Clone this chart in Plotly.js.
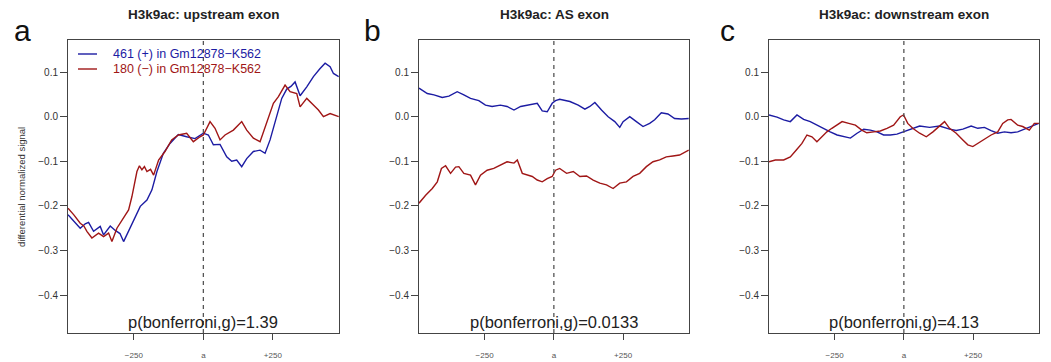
<!DOCTYPE html>
<html>
<head>
<meta charset="utf-8">
<script src="https://cdn.plot.ly/plotly-3.0.1.min.js"></script>
<style>html,body{margin:0;padding:0;background:#fff;}#chart{width:1051px;height:362px;}</style>
</head>
<body>
<div id="chart"></div>
<script>
// ---------- data ----------
const panelTitles = ['H3k9ac: upstream exon', 'H3k9ac: AS exon', 'H3k9ac: downstream exon'];
const panelLetters = ['a', 'b', 'c'];
const pValues = ['p(bonferroni,g)=1.39', 'p(bonferroni,g)=0.0133', 'p(bonferroni,g)=4.13'];
const seriesNames = ['461 (+) in Gm12878\u2212K562', '180 (\u2212) in Gm12878\u2212K562'];
const xTickVals = [-250, 0, 250];
const xTickText = ['\u2212250', 'a', '+250'];
const yTickVals = [-0.4, -0.3, -0.2, -0.1, 0.0, 0.1];
const yTitle = 'differential normalized signal';

// panel a: upstream exon
const aBlueX = [-487,-466,-443,-425,-413,-395,-371,-359,-335,-317,-300,-287,-269,-251,-227,-203,-185,-167,-144,-120,-90,-60,-30,0,18,36,60,84,102,120,138,156,180,204,222,240,264,282,300,315,330,348,372,396,420,438,456,468,487];
const aBlueY = [-0.220,-0.235,-0.250,-0.240,-0.237,-0.257,-0.246,-0.265,-0.245,-0.255,-0.262,-0.280,-0.257,-0.231,-0.201,-0.187,-0.164,-0.123,-0.082,-0.060,-0.040,-0.045,-0.049,-0.037,-0.041,-0.063,-0.062,-0.090,-0.100,-0.097,-0.112,-0.094,-0.078,-0.075,-0.082,-0.052,0.000,0.041,0.062,0.068,0.078,0.047,0.067,0.090,0.108,0.120,0.112,0.097,0.090];
const aRedX = [-487,-466,-443,-430,-419,-401,-377,-359,-341,-329,-311,-287,-269,-257,-239,-230,-221,-212,-203,-190,-179,-161,-138,-114,-90,-60,-36,-12,0,24,42,60,78,108,138,156,180,204,228,252,270,294,312,336,348,372,396,414,432,456,487];
const aRedY = [-0.205,-0.220,-0.239,-0.245,-0.257,-0.272,-0.261,-0.269,-0.261,-0.280,-0.250,-0.228,-0.209,-0.179,-0.123,-0.110,-0.119,-0.112,-0.123,-0.118,-0.131,-0.097,-0.078,-0.052,-0.041,-0.037,-0.056,-0.045,-0.041,-0.011,-0.026,-0.052,-0.041,-0.030,-0.011,-0.030,-0.048,-0.056,-0.011,0.030,0.045,0.071,0.056,0.052,0.022,0.041,0.026,0.015,0.000,0.007,0.000];

// panel b: AS exon
const bBlueX = [-487,-457,-433,-403,-379,-349,-325,-301,-271,-247,-223,-193,-169,-144,-120,-90,-60,-42,-24,-6,6,21,58,88,112,130,148,172,196,220,238,250,274,298,322,346,364,388,412,436,461,487];
const bBlueY = [0.064,0.052,0.049,0.043,0.046,0.056,0.049,0.041,0.036,0.026,0.023,0.026,0.023,0.015,0.023,0.026,0.030,0.013,0.011,0.030,0.036,0.039,0.034,0.026,0.017,0.023,0.032,0.015,0.000,-0.011,-0.024,-0.011,0.000,-0.011,-0.022,-0.015,-0.007,0.009,0.006,-0.004,-0.005,-0.004];
const bRedX = [-487,-463,-439,-421,-406,-391,-373,-355,-343,-325,-301,-283,-265,-241,-217,-193,-169,-144,-132,-114,-96,-78,-60,-42,-24,-6,6,21,46,70,94,118,142,166,190,214,238,262,286,310,334,358,382,406,430,454,487];
const bRedY = [-0.194,-0.176,-0.161,-0.146,-0.116,-0.110,-0.127,-0.113,-0.112,-0.127,-0.131,-0.153,-0.131,-0.120,-0.116,-0.108,-0.101,-0.104,-0.097,-0.127,-0.131,-0.134,-0.142,-0.146,-0.139,-0.134,-0.120,-0.116,-0.127,-0.123,-0.134,-0.133,-0.142,-0.149,-0.153,-0.161,-0.149,-0.146,-0.134,-0.127,-0.112,-0.101,-0.097,-0.090,-0.088,-0.086,-0.075];

// panel c: downstream exon
const cBlueX = [-487,-458,-434,-410,-386,-362,-338,-314,-290,-266,-241,-217,-193,-169,-145,-121,-97,-73,-49,-25,-1,20,57,93,129,165,189,213,243,267,291,315,339,363,387,411,435,459,487];
const cBlueY = [0.004,-0.001,-0.007,-0.011,0.004,-0.006,-0.011,-0.019,-0.026,-0.034,-0.041,-0.045,-0.048,-0.037,-0.028,-0.030,-0.034,-0.041,-0.041,-0.039,-0.034,-0.028,-0.021,-0.024,-0.021,-0.028,-0.031,-0.028,-0.021,-0.026,-0.024,-0.031,-0.037,-0.034,-0.036,-0.034,-0.028,-0.021,-0.015];
const cRedX = [-487,-464,-434,-410,-386,-368,-350,-332,-314,-296,-278,-260,-241,-223,-199,-175,-152,-134,-109,-85,-61,-37,-13,-1,14,32,57,81,105,129,147,165,189,213,231,249,267,291,315,339,357,375,387,411,429,453,471,487];
const cRedY = [-0.101,-0.097,-0.097,-0.090,-0.073,-0.060,-0.041,-0.045,-0.056,-0.045,-0.034,-0.026,-0.019,-0.011,-0.015,-0.019,-0.030,-0.036,-0.034,-0.032,-0.026,-0.019,0.000,0.004,-0.015,-0.026,-0.037,-0.045,-0.034,-0.022,-0.011,-0.026,-0.037,-0.052,-0.063,-0.067,-0.060,-0.052,-0.041,-0.034,-0.015,-0.007,-0.006,-0.019,-0.022,-0.030,-0.015,-0.015];

// ---------- styling ----------
const FONT = 'Liberation Sans, Arial, Helvetica, sans-serif';
const BLUE = '#1c1ca3';
const RED = '#a01616';
const W = 1051, H = 362;
const xDomains = [[68/W, 339/W], [419/W, 689/W], [769/W, 1039/W]];
const yDomain = [1 - 333/H, 1 - 40/H];
const xRange = [-487, 488];
const yRange = [-0.485, 0.172];

const panels = [
  {bx: aBlueX, by: aBlueY, rx: aRedX, ry: aRedY},
  {bx: bBlueX, by: bBlueY, rx: bRedX, ry: bRedY},
  {bx: cBlueX, by: cBlueY, rx: cRedX, ry: cRedY}
];

const traces = [];
const layout = {
  width: W, height: H,
  margin: {l: 0, r: 0, t: 0, b: 0},
  paper_bgcolor: '#fff', plot_bgcolor: '#fff',
  showlegend: false,
  font: {family: FONT, color: '#333'},
  shapes: [], annotations: []
};

panels.forEach((p, i) => {
  const sfx = i === 0 ? '' : String(i + 1);
  const xa = 'x' + sfx, ya = 'y' + sfx;
  traces.push({x: p.bx, y: p.by, xaxis: xa, yaxis: ya, type: 'scatter', mode: 'lines',
    name: seriesNames[0], line: {color: BLUE, width: 1.4}, hoverinfo: 'skip'});
  traces.push({x: p.rx, y: p.ry, xaxis: xa, yaxis: ya, type: 'scatter', mode: 'lines',
    name: seriesNames[1], line: {color: RED, width: 1.4}, hoverinfo: 'skip'});

  layout['xaxis' + sfx] = {
    domain: xDomains[i], anchor: ya, range: xRange, fixedrange: true,
    showgrid: false, zeroline: false,
    showline: true, mirror: true, linecolor: '#444', linewidth: 1,
    ticks: 'outside', ticklen: 6, tickcolor: '#444', tickwidth: 1,
    tickvals: xTickVals, ticktext: xTickText,
    tickfont: {family: FONT, size: 8, color: '#555'},
    ticklabelstandoff: 8
  };
  layout['yaxis' + sfx] = {
    domain: yDomain, anchor: xa, range: yRange, fixedrange: true,
    showgrid: false, zeroline: false,
    showline: true, mirror: true, linecolor: '#444', linewidth: 1,
    ticks: 'outside', ticklen: 7, tickcolor: '#444', tickwidth: 1,
    tickvals: yTickVals, tickformat: '.1f',
    tickfont: {family: FONT, size: 10, color: '#333'}
  };

  // dashed centre line at exon position
  layout.shapes.push({type: 'line', xref: xa, yref: ya + ' domain', x0: 0, x1: 0, y0: 0, y1: 1,
    line: {color: '#555', width: 1.3, dash: '4px,4px'}});

  const cx = (xDomains[i][0] + xDomains[i][1]) / 2;
  layout.annotations.push({text: '<b>' + panelTitles[i] + '</b>', xref: 'paper', yref: 'paper',
    x: cx, y: 1 - 14/H, xanchor: 'center', yanchor: 'middle', showarrow: false,
    font: {family: FONT, size: 13.5, color: '#222'}});
  layout.annotations.push({text: pValues[i], xref: xa, yref: 'paper',
    x: 0, y: 1 - 322/H, xanchor: 'center', yanchor: 'middle', showarrow: false,
    font: {family: FONT, size: 16.5, color: '#222'}});
});

// panel letters
[[22, 'a'], [372, 'b'], [727, 'c']].forEach(([px, t]) => {
  layout.annotations.push({text: t, xref: 'paper', yref: 'paper', x: px / W, y: 1 - 30/H,
    xanchor: 'center', yanchor: 'middle', showarrow: false,
    font: {family: FONT, size: 30, color: '#111'}});
});

// y-axis title (left panel)
layout.annotations.push({text: yTitle, xref: 'paper', yref: 'paper', x: 22 / W, y: 1 - 187/H,
  xanchor: 'center', yanchor: 'middle', textangle: -90, showarrow: false,
  font: {family: FONT, size: 9.5, color: '#333'}});

// legend (panel a)
[[54, BLUE, seriesNames[0]], [69, RED, seriesNames[1]]].forEach(([py, col, name]) => {
  layout.shapes.push({type: 'line', xref: 'paper', yref: 'paper', x0: 78 / W, x1: 97 / W,
    y0: 1 - py / H, y1: 1 - py / H, line: {color: col, width: 1.4}});
  layout.annotations.push({text: name, xref: 'paper', yref: 'paper', x: 111 / W, y: 1 - py / H,
    xanchor: 'left', yanchor: 'middle', showarrow: false,
    font: {family: FONT, size: 12.5, color: col}});
});

Plotly.newPlot('chart', traces, layout, {staticPlot: true, displayModeBar: false});
</script>
</body>
</html>
